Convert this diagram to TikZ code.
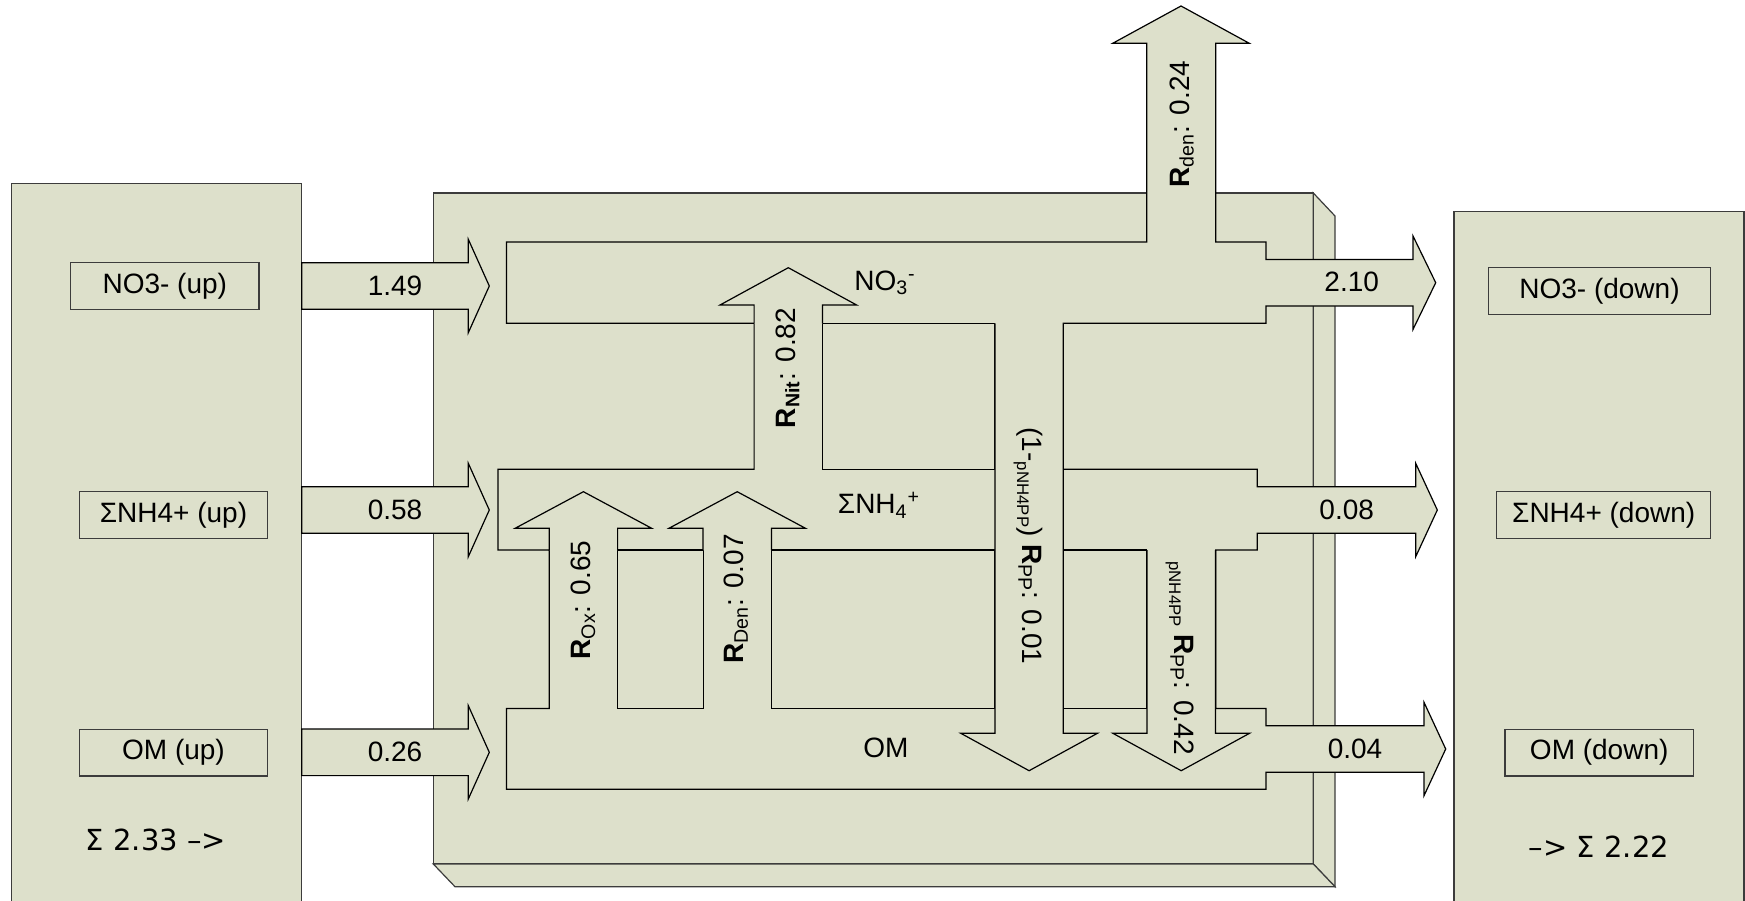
\documentclass[tikz,border=0pt]{standalone}
\usepackage{fontspec}
\setmainfont{Liberation Sans}
\newfontfamily\sumfont{DejaVu Sans}
\definecolor{boxfill}{RGB}{221,224,203}
\definecolor{edgegrey}{RGB}{60,60,60}
\tikzset{
  box3d/.style={draw=edgegrey, fill=boxfill, line width=0.6pt},
  chan/.style={draw=black, line width=0.6pt, line join=miter},
  num/.style={font=\fontsize{14}{16}\selectfont, inner sep=0pt},
  tagbox/.style={draw=edgegrey, line width=0.6pt, fill=boxfill, font=\fontsize{14}{16}\selectfont, inner sep=0pt, minimum height=23.4pt},
  sumtxt/.style={font=\sumfont\fontsize{14.5}{17}\selectfont, inner sep=0pt}
}
\newcommand{\vblock}[4]{%
  \fill[boxfill] ({#1-34.2},#2) -- ({#1-34.2},#3) -- ({#1-68.3},#3) -- (#1,#4) -- ({#1+68.3},#3) -- ({#1+34.2},#3) -- ({#1+34.2},#2) -- cycle;
  \draw[chan] ({#1-34.2},#2) -- ({#1-34.2},#3) -- ({#1-68.3},#3) -- (#1,#4) -- ({#1+68.3},#3) -- ({#1+34.2},#3) -- ({#1+34.2},#2);}
\newcommand{\hblock}[4]{%
  \filldraw[chan, fill=boxfill] (#1,{#4-23.3}) -- (#2,{#4-23.3}) -- (#2,{#4-46.7}) -- (#3,#4) -- (#2,{#4+46.7}) -- (#2,{#4+23.3}) -- (#1,{#4+23.3}) -- cycle;}
\newcommand{\smallp}{\raisebox{-0.2em}{\fontsize{8.4}{9}\selectfont pNH4PP}}
\begin{document}
\begin{tikzpicture}[x=0.5pt,y=-0.5pt]
\useasboundingbox (0,0) rectangle (1745,900);
\clip (0,0) rectangle (1745,900);
% side boxes
\filldraw[box3d] (11.3,183.7) rectangle (301.7,930);
\filldraw[box3d] (1454,211.7) rectangle (1744,930);
% central 3D box
\filldraw[box3d] (433.3,193) rectangle (1313.3,864);
\filldraw[box3d] (1313.3,193) -- (1335,216) -- (1335,886.7) -- (1313.3,864) -- cycle;
\filldraw[box3d] (433.3,864) -- (1313.3,864) -- (1335,886.7) -- (455,886.7) -- cycle;
% channel network outline
\filldraw[chan, fill=boxfill] (506.5,242) -- (1146.7,242) -- (1146.7,43.3) -- (1112.7,43.3) -- (1181,6) -- (1249.3,43.3) -- (1215.7,43.3) -- (1215.7,242) -- (1266,242) -- (1266,259.4) -- (1413,259.4) -- (1413,236) -- (1435.7,282.7) -- (1413,329.4) -- (1413,306) -- (1266,306) -- (1266,323.3) -- (1063.3,323.3) -- (1063.3,469.3) -- (1257.3,469.3) -- (1257.3,486.7) -- (1415.7,486.7) -- (1415.7,463.3) -- (1437.3,510) -- (1415.7,556.7) -- (1415.7,533.3) -- (1257.3,533.3) -- (1257.3,550) -- (1215.7,550) -- (1215.7,708.5) -- (1266,708.5) -- (1266,725.7) -- (1424,725.7) -- (1424,702.3) -- (1445.7,749) -- (1424,795.7) -- (1424,772.3) -- (1266,772.3) -- (1266,789.3) -- (506.5,789.3) -- (506.5,708.5) -- (549.3,708.5) -- (549.3,550) -- (498,550) -- (498,469.3) -- (754.1,469.3) -- (754.1,323.3) -- (506.5,323.3) -- cycle;
\draw[chan] (822.6,323.3) rectangle (994.8,469.3);
\draw[chan] (617.5,550) rectangle (703.2,708.5);
\draw[chan] (771.3,550) rectangle (994.8,708.5);
\draw[chan] (1063.3,550) rectangle (1146.7,708.5);
% internal process arrows
\vblock{788.3}{323.3}{305}{267.7}
\vblock{583.4}{550}{528.3}{491.7}
\vblock{737.2}{550}{528.3}{491.7}
\vblock{1029.1}{323.3}{733.3}{770.7}
\vblock{1181.2}{550}{733.3}{770.7}
% input arrows
\hblock{301.7}{468.3}{489.3}{286}
\hblock{301.7}{468.3}{489.3}{510}
\hblock{301.7}{468.3}{489.3}{752.3}
% labelled boxes
\node[tagbox, minimum width=94.2pt] (no3up) at (164.8,286) {NO3- (up)};
\node[tagbox, minimum width=94.2pt] (nh4up) at (173.5,515) {ΣNH4+ (up)};
\node[tagbox, minimum width=94.2pt] (omup) at (173.5,752.5) {OM (up)};
\node[tagbox, minimum width=111.2pt] (no3down) at (1599.5,290.8) {NO3- (down)};
\node[tagbox, minimum width=107pt] (nh4down) at (1603.7,515) {ΣNH4+ (down)};
\node[tagbox, minimum width=94.2pt] (omdown) at (1599.2,752.5) {OM (down)};
\node[sumtxt] (sumin) at (156,840) {Σ 2.33 –>};
\node[sumtxt] (sumout) at (1599,846.7) {–> Σ 2.22};
% flux numbers
\node[num] (f1) at (395,286) {1.49};
\node[num] (f2) at (395,510) {0.58};
\node[num] (f3) at (395,752.3) {0.26};
\node[num] (f4) at (1351.7,282) {2.10};
\node[num] (f5) at (1346.7,509.5) {0.08};
\node[num] (f6) at (1355,748.5) {0.04};
% pool labels
\node[num] (pno3) at (885,283) {NO\textsubscript{3}\textsuperscript{-}};
\node[num] (pnh4) at (879,505) {ΣNH\textsubscript{4}\textsuperscript{+}};
\node[num] (pom) at (886,748) {OM};
% process labels
\node[num, rotate=90] (rnit) at (787.6,368) {\textbf{R}\textsubscript{\textbf{Nit}}: 0.82};
\node[num, rotate=90] (rox) at (583.3,600) {\textbf{R}\textsubscript{Ox}: 0.65};
\node[num, rotate=90] (rden) at (736,599) {\textbf{R}\textsubscript{Den}: 0.07};
\node[num, rotate=90] (rdenout) at (1181.7,124) {\textbf{R}\textsubscript{den}: 0.24};
\node[num, rotate=-90] (rpp1) at (1028.3,546) {(1-\smallp) \textbf{R}\textsubscript{PP}: 0.01};
\node[num, rotate=-90] (rpp2) at (1180,658) {\smallp\ \textbf{R}\textsubscript{PP}: 0.42};
\end{tikzpicture}
\end{document}
